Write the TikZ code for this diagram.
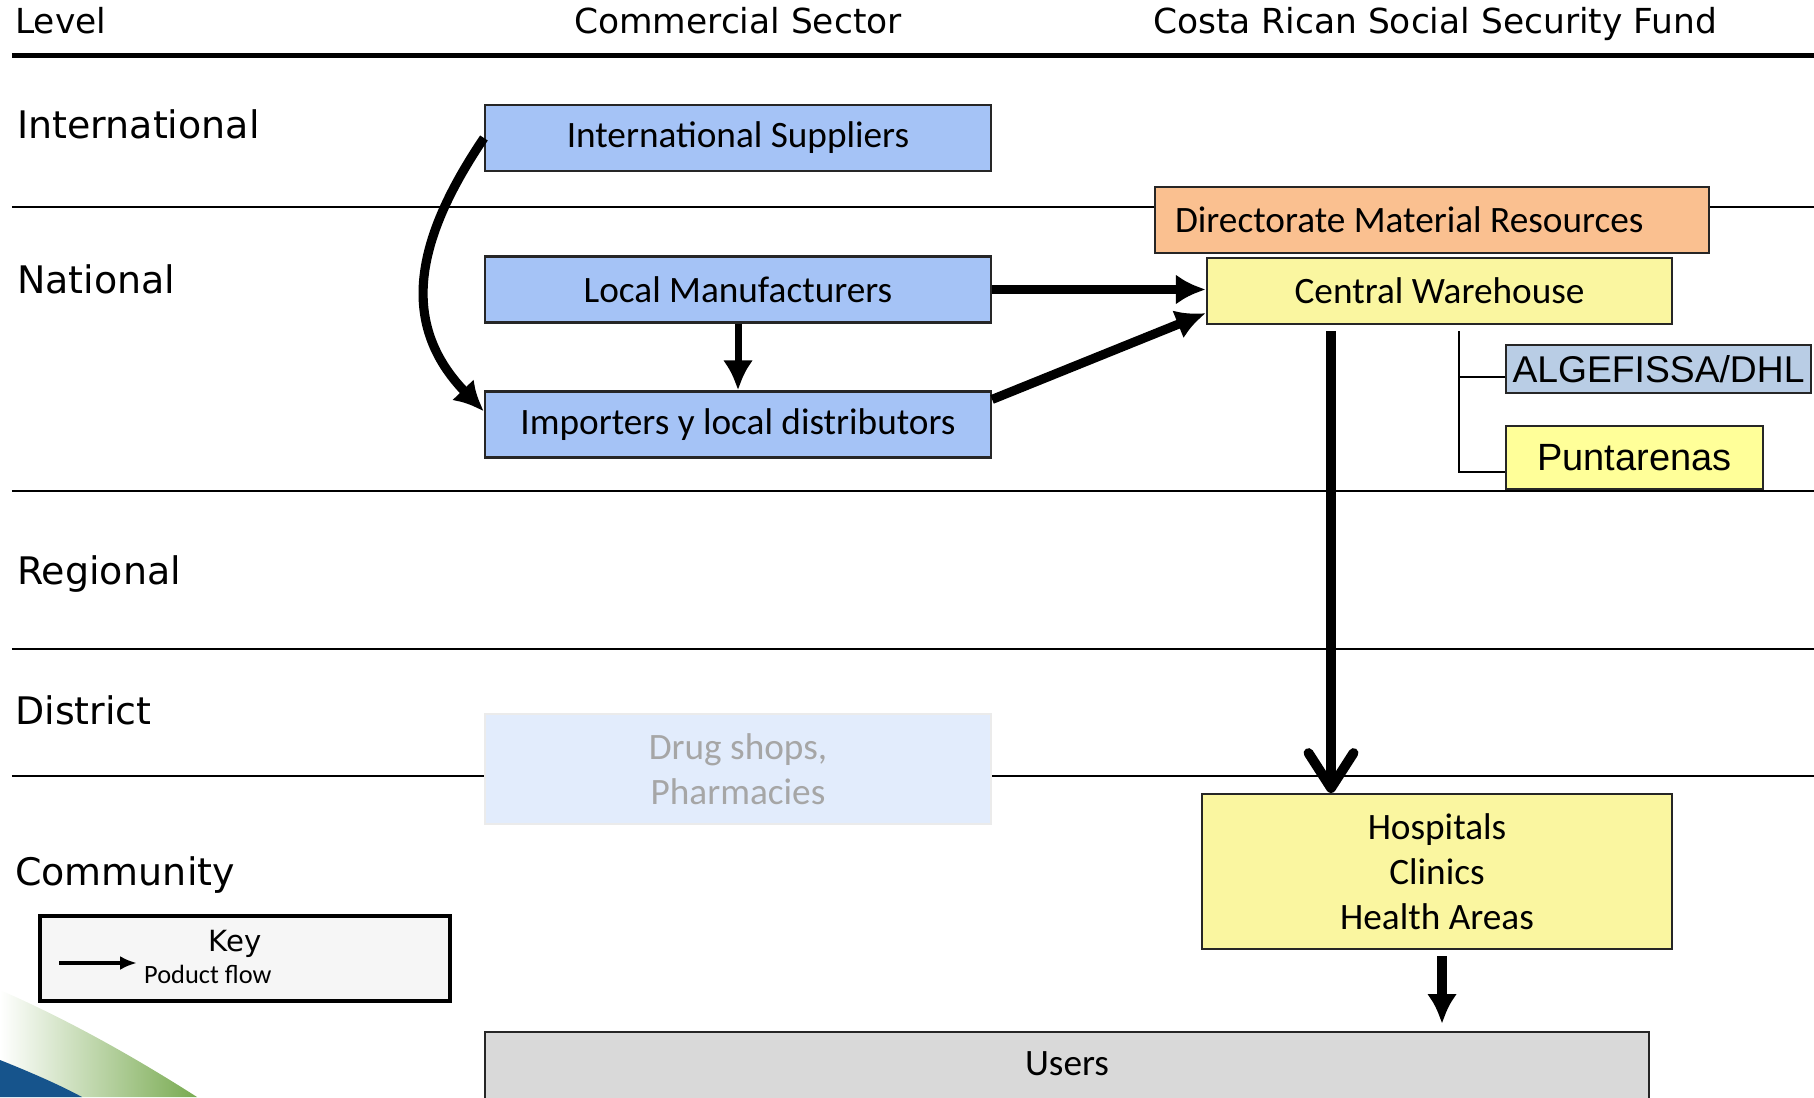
\documentclass[tikz,border=0pt]{standalone}
\usepackage{fontspec}
\setmainfont{Carlito}
\newfontfamily\levelfont{DejaVu Sans}
\newfontfamily\arialfont{Liberation Sans}
\usetikzlibrary{arrows.meta}
\usetikzlibrary{calc}
\definecolor{supblue}{RGB}{165,195,246}
\definecolor{dmrorange}{RGB}{250,192,144}
\definecolor{ccssyellow}{RGB}{250,246,160}
\definecolor{puntyellow}{RGB}{255,255,153}
\definecolor{dhlblue}{RGB}{185,205,229}
\definecolor{drugblue}{RGB}{226,236,252}
\definecolor{usergray}{RGB}{217,217,217}
\definecolor{keygray}{RGB}{246,246,246}
\definecolor{swooshgreen}{RGB}{120,170,80}
\definecolor{swooshblue}{RGB}{22,84,140}
\tikzset{every picture/.style={line width=0.7pt},
  box/.style={draw=black!85,line width=0.6pt,inner sep=0pt,align=center,font=\fontsize{10.6}{12.8}\selectfont},
  flow/.style={line width=2.6pt,-{Latex[length=0.3cm,width=0.3cm]}},
  level/.style={anchor=base west,inner sep=0pt,font=\levelfont\fontsize{10.8}{13}\selectfont},
  head/.style={anchor=base,inner sep=0pt,font=\levelfont\fontsize{9.8}{12}\selectfont}}

\begin{document}
\begin{tikzpicture}
\useasboundingbox (0,0) rectangle (18.14,10.97);
\shade[left color=white,right color=swooshgreen] (0,1.07) .. controls (0.8,0.72) and (1.5,0.3) .. (1.97,0) -- (0,0) -- cycle;
\fill[swooshblue] (0,0.37) .. controls (0.3,0.25) and (0.6,0.12) .. (0.82,0) -- (0,0) -- cycle;
\draw[line width=1.4pt] (0.12,10.415) -- (18.14,10.415);
\draw (0.12,8.90) -- (18.14,8.90);
\draw (0.12,6.06) -- (18.14,6.06);
\draw (0.12,4.48) -- (18.14,4.48);
\draw (0.12,3.21) -- (18.14,3.21);
\node[head,anchor=base west] (levelhd) at (0.14,10.635) {Level};
\node[head] (comhd) at (7.38,10.635) {Commercial Sector};
\node[head] (ccsshd) at (14.35,10.635) {Costa Rican Social Security Fund};
\node[level] (intl) at (0.16,9.58) {International};
\node[level] (natl) at (0.16,8.03) {National};
\node[level] (regl) at (0.16,5.12) {Regional};
\node[level] (dist) at (0.14,3.73) {District};
\node[level] (comm) at (0.14,2.12) {Community};
\node[box,fill=supblue,minimum width=5.06cm,minimum height=0.66cm] (intsup) at (7.38,9.59) {International Suppliers};
\node[box,fill=supblue,minimum width=5.06cm,minimum height=0.66cm] (localman) at (7.38,8.075) {Local Manufacturers};
\node[box,fill=supblue,minimum width=5.06cm,minimum height=0.66cm] (importers) at (7.38,6.725) {Importers y local distributors};
\node[box,fill=dmrorange,inner xsep=0.2cm,text width=5.14cm,align=flush left,minimum height=0.66cm] (dmr) at (14.32,8.77) {Directorate Material Resources};
\node[box,fill=ccssyellow,minimum width=4.65cm,minimum height=0.66cm] (cw) at (14.395,8.06) {Central Warehouse};
\node[box,fill=dhlblue,font=\arialfont\fontsize{10.6}{13}\selectfont,minimum width=3.05cm,minimum height=0.48cm] (algef) at (16.585,7.28) {ALGEFISSA/DHL};
\node[box,fill=puntyellow,font=\arialfont\fontsize{10.8}{13}\selectfont,minimum width=2.57cm,minimum height=0.63cm] (punt) at (16.345,6.395) {Puntarenas};
\node[box,draw=black!8,fill=drugblue,text=black!35,minimum width=5.06cm,minimum height=1.10cm] (drug) at (7.38,3.28) {Drug shops,\\Pharmacies};
\node[box,fill=ccssyellow,minimum width=4.70cm,minimum height=1.55cm] (hosp) at (14.37,2.255) {Hospitals\\Clinics\\Health Areas};
\node[box,fill=usergray,anchor=north,minimum width=11.64cm,inner sep=0.1cm,text height=0.33cm,text depth=0.47cm] (users) at (10.67,0.66) {Users};
\node[box,draw=black,fill=keygray,line width=1pt,minimum width=4.10cm,minimum height=0.85cm] (key) at (2.45,1.385) {};
\node[anchor=base,inner sep=0pt,font=\levelfont\fontsize{8.3}{10}\selectfont] (keytitle) at (2.35,1.46) {Key};
\node[anchor=base west,inner sep=0pt,font=\fontsize{7.5}{9}\selectfont] (keyflow) at (1.43,1.14) {Poduct flow};
\coordinate (keyA) at (0.59,1.34);
\coordinate (keyB) at (1.37,1.34);
\draw[line width=1.3pt,-{Latex[length=0.17cm,width=0.14cm]}] (keyA) -- (keyB);
\draw[flow] (intsup.west) to[out=236,in=134,looseness=1.15] ([yshift=0.13cm]importers.west);
\draw[flow] (localman.east) -- (localman.east -| cw.west);
\draw[flow,line width=2pt] (localman.south) -- (importers.north);
\draw[flow] ([yshift=-0.09cm]importers.north east) -- ([yshift=0.12cm]cw.south west);
\draw[line width=2.8pt,-{Straight Barb[length=0.35cm,width=0.45cm,round]}] ([xshift=-1.085cm,yshift=-0.06cm]cw.south) -- ([xshift=-1.085cm]cw.south |- hosp.north);
\draw[flow,shorten <=0.06cm,shorten >=0.07cm] ([xshift=0.05cm]hosp.south) -- ([xshift=0.05cm]hosp.south |- users.north);
\draw[line width=0.8pt] ([xshift=0.195cm,yshift=-0.06cm]cw.south) |- ([yshift=-0.145cm]punt.west);
\draw[line width=0.8pt] ([xshift=0.195cm,yshift=-0.08cm]cw.south |- algef.west) -- ([yshift=-0.08cm]algef.west);
\end{tikzpicture}
\end{document}
